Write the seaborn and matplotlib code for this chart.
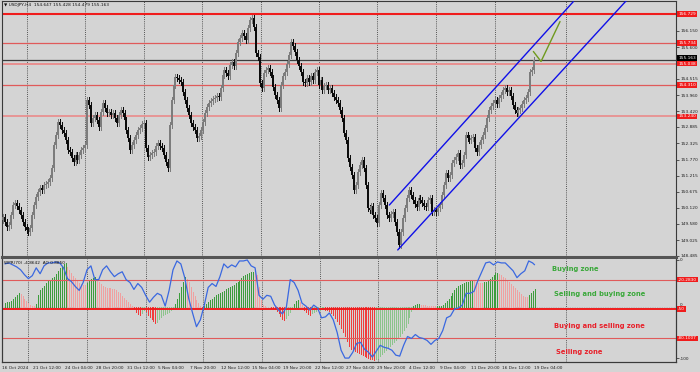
import numpy as np
import matplotlib
matplotlib.use("Agg")
import matplotlib.pyplot as plt
import matplotlib.transforms as mtransforms
import seaborn as sns

# ---------------- data (USDJPY H4) ----------------
first_open = 149.70
closes = [
    149.81, 149.64, 149.47, 149.54, 149.88, 150.22, 150.29, 150.19, 150.05, 149.88, 149.64, 149.47, 149.37, 149.30,
    149.44, 149.88, 150.22, 150.50, 150.67, 150.80, 150.73, 150.90, 150.94, 151.01, 151.14, 151.48, 152.27, 152.61, 153.05,
    152.95, 152.78, 152.68, 152.44, 152.10, 152.03, 151.82, 151.69, 151.93, 151.76, 151.93, 152.10, 152.17, 152.27, 153.80,
    153.63, 153.02, 153.19, 153.29, 153.12, 152.88, 153.40, 153.70, 153.53, 153.36, 153.40, 153.29, 153.36, 153.19, 153.02,
    153.29, 153.46, 153.36, 153.12, 152.78, 152.51, 152.10, 152.27, 152.44, 152.61, 152.78, 152.85, 152.98, 153.02, 152.17,
    151.86, 151.93, 151.99, 152.03, 152.23, 152.33, 152.23, 152.17, 151.93, 151.69, 151.48, 152.95, 153.80, 154.31, 154.58,
    154.55, 154.48, 154.41, 154.07, 153.80, 153.53, 153.29, 153.02, 152.88, 152.78, 152.51, 152.58, 152.78, 153.05, 153.36,
    153.56, 153.70, 153.77, 153.83, 153.87, 153.94, 153.90, 154.21, 154.65, 154.82, 154.72, 154.62, 154.99, 155.09, 154.96,
    155.40, 155.78, 155.91, 156.08, 155.98, 155.84, 156.25, 156.53, 156.59, 156.29, 155.40, 155.27, 154.38, 154.21, 154.72,
    154.82, 154.89, 154.75, 154.55, 154.24, 153.97, 153.80, 153.53, 154.31, 154.62, 154.75, 155.03, 155.33, 155.78, 155.64,
    155.44, 155.16, 154.96, 154.75, 154.41, 154.38, 154.55, 154.41, 154.62, 154.48, 154.75, 154.82, 154.31, 154.48, 154.14,
    154.28, 154.31, 154.14, 154.21, 154.04, 153.90, 153.80, 153.70, 153.46, 153.19, 152.68, 152.44, 151.82, 151.52, 151.24,
    150.73, 150.90, 151.35, 151.59, 151.76, 151.48, 150.90, 150.12, 150.05, 150.19, 149.88, 149.78, 149.61, 150.22, 150.63,
    150.46, 150.22, 149.88, 149.78, 149.92, 149.98, 149.64, 149.30, 148.86, 149.30, 149.78, 150.12, 150.46, 150.73, 150.56,
    150.39, 150.26, 150.16, 150.46, 150.39, 150.29, 150.19, 150.16, 150.39, 150.46, 149.98, 150.05, 149.98, 150.12, 150.22,
    150.56, 150.90, 151.31, 151.14, 151.24, 151.65, 151.76, 151.86, 151.99, 151.59, 151.65, 151.93, 152.61, 152.51, 152.44,
    152.51, 152.54, 152.17, 152.03, 152.27, 152.44, 152.61, 152.85, 153.19, 153.46, 153.60, 153.70, 153.80, 153.67, 153.87,
    153.97, 154.14, 154.21, 154.07, 154.14, 153.94, 153.63, 153.46, 153.36, 153.46, 153.53, 153.67, 153.80, 153.87, 154.07,
    154.75, 154.82, 155.16,
]

ao = [
    0.20, 0.25, 0.25, 0.30, 0.40, 0.50, 0.60, 0.70, 0.65, 0.55, 0.40, 0.30, 0.20, 0.10,
    0.05, 0.03, 0.15,
    0.60, 0.85, 0.95, 1.05, 1.20, 1.30, 1.35, 1.45, 1.50, 1.65, 1.80, 1.95, 2.05, 2.15, 2.20,
    2.00, 1.85, 1.70, 1.55, 1.45, 1.30, 1.20, 1.15, 1.10, 1.10, 1.20, 1.30, 1.40, 1.45, 1.50,
    1.40, 1.25, 1.15, 1.05, 1.00, 0.95, 0.95, 0.95, 0.90, 0.90, 0.85, 0.75, 0.70, 0.55, 0.45, 0.35, 0.25, 0.15, 0.05,
    -0.10, -0.25, -0.35, -0.40, -0.30, -0.15, -0.20, -0.40, -0.50, -0.60, -0.70, -0.80, -0.75, -0.60, -0.50, -0.40,
    -0.35, -0.30, -0.25, -0.15, -0.05,
    0.15, 0.40, 0.70, 1.00, 1.25, 1.50, 1.40, 1.25, 1.00, 0.75, 0.55, 0.35, 0.20, 0.05, -0.05,
    0.05, 0.15, 0.25, 0.35, 0.40, 0.50, 0.60, 0.65, 0.70, 0.75, 0.80, 0.90, 0.95, 1.00, 1.05, 1.10, 1.20, 1.25, 1.35,
    1.45, 1.55, 1.60, 1.65, 1.70, 1.75, 1.75, 1.70, 1.60,
    1.00, 0.35, 0.10, 0.05, 0.01, 0.00, -0.05, -0.05, -0.10, -0.20, -0.30, -0.45, -0.60, -0.65, -0.55, -0.40, -0.25,
    -0.05, 0.15, 0.30, 0.35, 0.25, 0.10,
    -0.15, -0.25, -0.35, -0.40, -0.30, -0.25, -0.20, -0.15, -0.15, -0.10, -0.10, -0.15, -0.15,
    -0.20, -0.30, -0.40, -0.55, -0.70, -0.85, -1.05, -1.25, -1.45, -1.70, -1.95, -2.10, -2.15, -2.20, -2.25,
    -2.30, -2.35, -2.40, -2.45, -2.50, -2.55, -2.60, -2.62, -2.65, -2.60, -2.55, -2.45, -2.35, -2.25, -2.15,
    -2.05, -1.95, -1.85, -1.75, -1.65, -1.55, -1.45, -1.30, -1.15, -1.00, -0.80, -0.50, -0.20,
    0.05, 0.10, 0.15, 0.15, 0.10, 0.10, 0.10, 0.05, 0.05, 0.05, 0.05, 0.03, 0.05, 0.05, 0.05,
    0.10, 0.20, 0.30, 0.40, 0.55, 0.70, 0.85, 0.95, 1.05, 1.10, 1.15, 1.20, 1.25, 1.25, 1.30, 1.35, 1.30, 1.25, 1.20,
    1.20, 1.20, 1.25, 1.25, 1.30, 1.40, 1.50, 1.60, 1.70, 1.70, 1.65,
    1.60, 1.50, 1.45, 1.35, 1.25, 1.15, 1.05, 0.95, 0.85, 0.75, 0.65, 0.55, 0.50, 0.50, 0.60, 0.70, 0.80, 0.885,
]

wpr_bars = list(range(0, 272, 2)) + [271]
wpr = [
    -4, -3, -5, -7, -10, -15, -19, -16, -8, -14, -6, -3, -3, -2, -3, -8, -19, -22, -27, -31,
    -23, -10, -6, -20, -20, -10, -6, -12, -17, -14, -12, -20, -23, -30, -24, -28, -36, -43, -38, -34,
    -36, -47, -31, -10, -1, -4, -18, -39, -54, -68, -61, -46, -28, -24, -27, -17, -4, -8, -5, -7,
    -1, -1, 0, -6, -8, -36, -40, -36, -37, -46, -51, -55, -48, -20, -23, -31, -44, -47, -51, -46,
    -49, -59, -58, -54, -61, -74, -92, -100, -100, -94, -85, -84, -91, -94, -99, -93, -87, -89, -90, -92,
    -97, -98, -87, -78, -80, -76, -79, -80, -82, -86, -82, -80, -72, -59, -57, -50, -49, -46, -34, -34,
    -32, -21, -12, -3, -2, -5, -2, -3, -3, -7, -11, -18, -14, -11, -1, -3,
    -4.8642,
]

# support / resistance levels and trend channel
levels = [156.729, 155.734, 155.038, 154.310, 153.240]
current_price = 155.163
channel_upper_x = [197.1, 291.0]
channel_upper_y = [150.22, 157.15]
channel_lower_x = [201.4, 318.4]
channel_lower_y = [148.69, 157.21]
proj_x = [270.6, 274.5, 284.2]
proj_y = [155.45, 155.11, 156.47]

price_ticks = [148.485, 149.025, 149.580, 150.120, 150.675, 151.215, 151.770,
               152.325, 152.885, 153.420, 153.960, 154.515, 155.600, 156.150]
wpr_levels = [-20, -50, -80]
wpr_level_labels = ["-20.2830", "-50", "-80.1007"]

date_labels = ["16 Oct 2024", "21 Oct 12:00", "24 Oct 04:00", "28 Oct 20:00", "31 Oct 12:00",
               "5 Nov 04:00", "7 Nov 20:00", "12 Nov 12:00", "15 Nov 04:00", "19 Nov 20:00",
               "22 Nov 12:00", "27 Nov 04:00", "29 Nov 20:00", "4 Dec 12:00", "9 Dec 04:00",
               "11 Dec 20:00", "16 Dec 12:00", "19 Dec 04:00"]
grid_bars = [12, 42, 72, 101.5, 131.5, 161, 191, 221, 251, 287]

header = "\u25bc USDJPY,H4  154.647 155.428 154.479 155.163"
ind_header = "WPR(70) -4.8642  AO 0.8850"
zones = [("Buying zone", "#3aa83a"), ("Selling and buying zone", "#3aa83a"),
         ("Buying and selling zone", "#e8202a"), ("Selling zone", "#e8202a")]

# ---------------- style ----------------
sns.set_style("white")
plt.rcParams['font.family'] = ['DejaVu Sans']
BG = '#d4d4d4'
W, H = 700, 372
SMALL = 3.1

fig = plt.figure(figsize=(7.0, 3.72), dpi=100, facecolor=BG)


def fx(px):
    return px / W


def fy(py):
    return 1 - py / H


ax = fig.add_axes([fx(2), fy(257), (676 - 2) / W, (257 - 1) / H])
ax_ao = fig.add_axes([fx(2), fy(362), (676 - 2) / W, (362 - 259) / H])
ax_w = ax_ao.twinx()

for a in (ax, ax_ao):
    a.set_facecolor(BG)
ax_w.patch.set_visible(False)

n = len(closes)
xs = np.arange(n)
opens = np.array([first_open] + closes[:-1])
cl = np.array(closes)
WICK = 0.10
highs = np.maximum(opens, cl) + WICK
lows = np.minimum(opens, cl) - WICK
cols = np.where(cl >= opens, '#7c7c7c', '#0c0c0c')

XL = (-0.51, (676 - 3) / 1.96)

# ---- main price panel ----
for g in grid_bars:
    ax.axvline(g, color='#2a2a2a', lw=0.55, ls=(0, (1.2, 1.6)), zorder=1)

lvl_styles = [dict(color='#f01c1c', lw=1.5), dict(color='#e05a5a', lw=0.9),
              dict(color='#e89090', lw=1.4), dict(color='#e05a5a', lw=0.9),
              dict(color='#e89090', lw=1.3)]
for lv, st in zip(levels, lvl_styles):
    ax.axhline(lv, zorder=2, **st)
ax.axhline(current_price, color='#3c3c3c', lw=0.9, zorder=2)

ax.vlines(xs, lows, highs, colors=cols, lw=0.7, zorder=3, antialiased=False)
ax.vlines(xs, opens, cl, colors=cols, lw=1.2, zorder=3, antialiased=False)

sns.lineplot(x=channel_upper_x, y=channel_upper_y, ax=ax, color='#1010e8', lw=1.0, zorder=4)
sns.lineplot(x=channel_lower_x, y=channel_lower_y, ax=ax, color='#1010e8', lw=1.0, zorder=4)
sns.lineplot(x=proj_x, y=proj_y, ax=ax, color='#6f9a1e', lw=1.0, zorder=4)

ax.set_xlim(*XL)
ax.set_ylim(148.45, 157.17)
ax.set_xticks([])
ax.yaxis.tick_right()
ax.set_yticks(price_ticks)
ax.set_yticklabels([f"{v:.3f}" for v in price_ticks])
ax.tick_params(axis='y', length=2, width=0.5, labelsize=SMALL, pad=1, colors='#202020')
for s in ('left', 'top', 'right'):
    ax.spines[s].set_color('#3a3a3a')
    ax.spines[s].set_linewidth(0.8)
ax.spines['bottom'].set_color('#555555')
ax.spines['bottom'].set_linewidth(2.2)

blend = mtransforms.blended_transform_factory(ax.transAxes, ax.transData)
for lv in levels:
    ax.text(1.003, lv, f"{lv:.3f}", transform=blend, fontsize=SMALL, color='white',
            ha='left', va='center', zorder=6,
            bbox=dict(boxstyle='square,pad=0.2', fc='#f01c1c', ec='none'))
ax.text(1.003, current_price + 0.06, f"{current_price:.3f}", transform=blend, fontsize=SMALL,
        color='white', ha='left', va='center', zorder=7,
        bbox=dict(boxstyle='square,pad=0.2', fc='#000000', ec='none'))
ax.set_xlabel('')
ax.set_ylabel('')
fig.text(fx(4), fy(5), header, fontsize=SMALL, color='#101010', ha='left', va='center')

# ---- indicator panel ----
for g in grid_bars:
    ax_ao.axvline(g, color='#2a2a2a', lw=0.55, ls=(0, (1.2, 1.6)), zorder=1)
ax_ao.axhline(0, color='#a8a8a8', lw=0.5, ls=(0, (1, 1.5)), zorder=1)

ao_arr = np.array(ao)
ao_cols = []
prev_up = True
for i, v in enumerate(ao_arr):
    if i > 0 and v != ao_arr[i - 1]:
        prev_up = v > ao_arr[i - 1]
    if prev_up:
        ao_cols.append('#3c9c3c' if v >= 0 else '#8cc48c')
    else:
        ao_cols.append('#f0a0a0' if v >= 0 else '#f03c3c')
ax_ao.vlines(xs, 0, ao_arr, colors=ao_cols, lw=0.72, zorder=2, antialiased=False)
ax_ao.set_xlim(*XL)
ax_ao.set_ylim(-2.75, 2.4)
ax_ao.set_yticks([])

lv_st = {-20: dict(color='#e05a5a', lw=0.8), -50: dict(color='#f01c1c', lw=1.4),
         -80: dict(color='#e05a5a', lw=0.8)}
for lv in wpr_levels:
    ax_w.axhline(lv, zorder=2, **lv_st[lv])
sns.lineplot(x=wpr_bars, y=wpr, ax=ax_w, color='#3a68e0', lw=0.9, zorder=5)
ax_w.set_xlim(*XL)
ax_w.set_ylim(-104, 1)
ax_w.set_yticks([0, -100])
ax_w.set_yticklabels(['0', '-100'])
ax_w.tick_params(axis='y', length=2, width=0.5, labelsize=SMALL, pad=1, colors='#202020')
ax_w.set_ylabel('')

blend_w = mtransforms.blended_transform_factory(ax_w.transAxes, ax_w.transData)
for lv, lab in zip(wpr_levels, wpr_level_labels):
    ax_w.text(1.003, lv, lab, transform=blend_w, fontsize=SMALL, color='white', ha='left',
              va='center', zorder=6, bbox=dict(boxstyle='square,pad=0.2', fc='#f01c1c', ec='none'))
blend_ao = mtransforms.blended_transform_factory(ax_ao.transAxes, ax_ao.transData)
ax_ao.text(1.006, 0.08, '0', transform=blend_ao, fontsize=SMALL, color='#202020', ha='left', va='center')

for a in (ax_ao, ax_w):
    a.spines['top'].set_visible(False)
    for s in ('left', 'right', 'bottom'):
        a.spines[s].set_color('#3a3a3a')
        a.spines[s].set_linewidth(0.8)

date_pos = [16 * i - 1.5 for i in range(len(date_labels))]
ax_ao.set_xticks(date_pos)
ax_ao.set_xticklabels(date_labels, ha='left', fontsize=SMALL, color='#202020')
ax_ao.tick_params(axis='x', length=2, width=0.5, pad=1)
ax_w.tick_params(axis='x', length=0, labelbottom=False)

fig.text(fx(4), fy(263), ind_header, fontsize=SMALL, color='#101010', ha='left', va='center', zorder=8)

zone_y = [269, 294, 326, 352]
zone_x = [552, 554, 554, 556]
for (txt, c), zx, zy in zip(zones, zone_x, zone_y):
    fig.text(fx(zx), fy(zy), txt, fontsize=4.9, fontweight='bold', color=c, ha='left', va='center')

fig.savefig('out.png', dpi=100, facecolor=BG)
